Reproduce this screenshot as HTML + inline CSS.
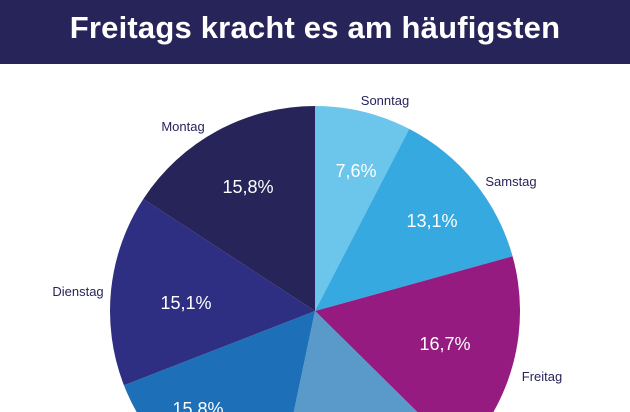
<!DOCTYPE html>
<html><head><meta charset="utf-8"><style>
html,body{margin:0;padding:0;background:#fff;width:630px;height:412px;overflow:hidden;font-family:"Liberation Sans",sans-serif}
.t{position:absolute;left:0;top:0;width:630px;height:64px;background:#272459;color:#fff;font-weight:bold;font-size:31px;text-align:center;line-height:56px;letter-spacing:0.2px}
</style></head><body>
<div class="t">Freitags kracht es am häufigsten</div>
<svg width="630" height="412" style="position:absolute;left:0;top:0" xmlns="http://www.w3.org/2000/svg">
<g id="p"></g>
<g font-family="Liberation Sans, sans-serif" fill="#fff" font-size="18" text-anchor="middle">
<text x="248" y="193">15,8%</text>
<text x="356" y="177">7,6%</text>
<text x="432" y="227">13,1%</text>
<text x="186" y="309">15,1%</text>
<text x="445" y="350">16,7%</text>
<text x="198" y="415">15,8%</text>
</g>
<g font-family="Liberation Sans, sans-serif" fill="#272459" font-size="13" text-anchor="middle">
<text x="385" y="105">Sonntag</text>
<text x="511" y="186">Samstag</text>
<text x="542" y="381">Freitag</text>
<text x="78" y="296">Dienstag</text>
<text x="183" y="131">Montag</text>
</g>
</svg>
<script>
var cx=315,cy=311,r=205,v=[7.6,13.1,16.7,15.9,15.8,15.1,15.8],c=["#6CC5EA","#36A9E0","#951B81","#5A9ACB","#1D70B7","#2E2F82","#272459"];
var a=0,s="";
for(var i=0;i<v.length;i++){var b=a+v[i]/100*2*Math.PI;
var x1=cx+r*Math.sin(a),y1=cy-r*Math.cos(a),x2=cx+r*Math.sin(b),y2=cy-r*Math.cos(b);
s+='<path d="M'+cx+','+cy+'L'+x1+','+y1+'A'+r+','+r+' 0 '+(b-a>Math.PI?1:0)+' 1 '+x2+','+y2+'Z" fill="'+c[i]+'"/>';a=b;}
document.getElementById("p").innerHTML=s;
</script>
</body></html>
